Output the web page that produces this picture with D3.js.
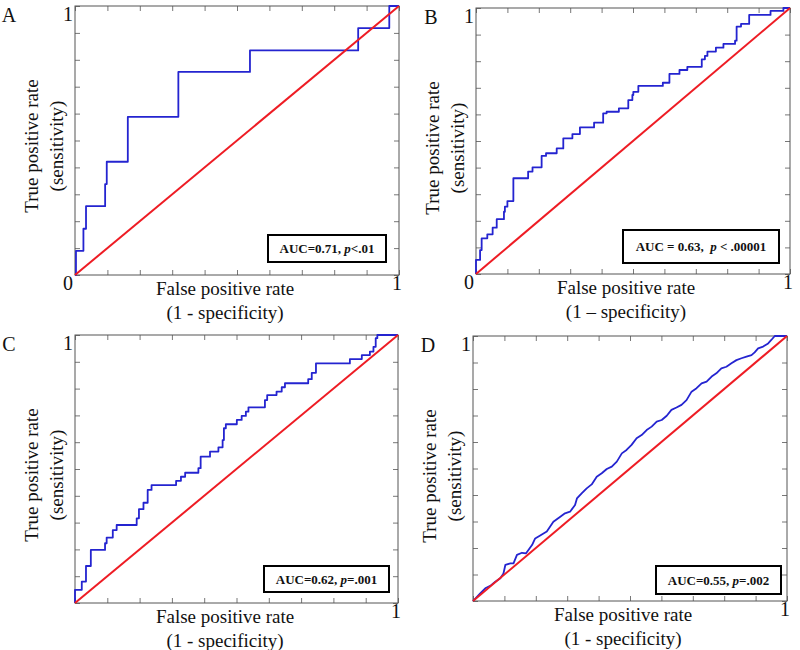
<!DOCTYPE html>
<html>
<head>
<meta charset="utf-8">
<script src="https://cdn.jsdelivr.net/npm/d3@7"></script>
<style>
  body { margin: 0; background: #fff; }
  svg { display: block; font-family: "Liberation Serif", "Times New Roman", serif; }
</style>
</head>
<body>
<div id="chart"></div>
<script>
// ROC values: x of each vertical jump and the level reached after it
const fprA = [0, 0.003, 0.026, 0.034, 0.093, 0.098, 0.163, 0.319, 0.540, 0.874, 0.970, 1.0];
const tprA = [0, 0.090, 0.172, 0.256, 0.338, 0.421, 0.588, 0.755, 0.835, 0.918, 1.0, 1.0];

const fprB = [0, 0, 0.013, 0.018, 0.036, 0.053, 0.066, 0.089, 0.092, 0.100, 0.119, 0.166, 0.180, 0.209,
  0.223, 0.257, 0.278, 0.307, 0.331, 0.376, 0.405, 0.416, 0.455, 0.485, 0.498, 0.501, 0.517, 0.595,
  0.616, 0.648, 0.673, 0.719, 0.729, 0.737, 0.764, 0.788, 0.825, 0.830, 0.844, 0.870, 0.938, 0.979, 1.0];
const tprB = [0, 0.053, 0.090, 0.134, 0.149, 0.174, 0.206, 0.234, 0.253, 0.274, 0.360, 0.385, 0.401, 0.444,
  0.454, 0.472, 0.510, 0.526, 0.551, 0.569, 0.604, 0.610, 0.623, 0.654, 0.673, 0.685, 0.707, 0.719,
  0.752, 0.767, 0.779, 0.807, 0.820, 0.836, 0.851, 0.865, 0.877, 0.930, 0.940, 0.974, 0.989, 1.0, 1.0];

const fprC = [0, 0, 0.021, 0.034, 0.049, 0.093, 0.098, 0.117, 0.129, 0.191, 0.198, 0.212, 0.225, 0.237,
  0.313, 0.328, 0.341, 0.382, 0.389, 0.418, 0.444, 0.457, 0.461, 0.467, 0.501, 0.516, 0.529, 0.537,
  0.588, 0.595, 0.624, 0.640, 0.650, 0.722, 0.733, 0.746, 0.851, 0.888, 0.913, 0.924, 0.931, 0.936, 1.0];
const tprC = [0, 0.049, 0.080, 0.138, 0.198, 0.223, 0.244, 0.272, 0.291, 0.316, 0.350, 0.374, 0.422, 0.440,
  0.456, 0.471, 0.486, 0.503, 0.546, 0.565, 0.581, 0.608, 0.652, 0.667, 0.683, 0.698, 0.714, 0.730,
  0.757, 0.776, 0.789, 0.805, 0.820, 0.835, 0.859, 0.894, 0.910, 0.925, 0.938, 0.956, 0.988, 1.0, 1.0];

const fprD = [0, 0.023, 0.039, 0.055, 0.071, 0.087, 0.097, 0.103, 0.119, 0.129, 0.140, 0.156, 0.169, 0.188,
  0.198, 0.214, 0.235, 0.256, 0.278, 0.293, 0.309, 0.325, 0.331, 0.346, 0.362, 0.378, 0.394, 0.410,
  0.426, 0.442, 0.458, 0.474, 0.489, 0.505, 0.521, 0.537, 0.553, 0.569, 0.585, 0.601, 0.617, 0.632,
  0.648, 0.664, 0.680, 0.696, 0.712, 0.728, 0.744, 0.760, 0.775, 0.791, 0.807, 0.823, 0.839, 0.855,
  0.871, 0.887, 0.897, 0.908, 0.924, 0.940, 0.950, 0.961, 1.0];
const tprD = [0, 0.029, 0.048, 0.057, 0.073, 0.086, 0.104, 0.136, 0.142, 0.142, 0.174, 0.182, 0.180, 0.211,
  0.236, 0.247, 0.262, 0.299, 0.318, 0.331, 0.337, 0.362, 0.387, 0.406, 0.425, 0.440, 0.469, 0.482,
  0.498, 0.507, 0.526, 0.557, 0.570, 0.589, 0.614, 0.626, 0.645, 0.658, 0.677, 0.683, 0.699, 0.721,
  0.730, 0.740, 0.758, 0.790, 0.803, 0.821, 0.828, 0.847, 0.859, 0.878, 0.884, 0.897, 0.909, 0.916,
  0.922, 0.928, 0.938, 0.953, 0.960, 0.972, 0.985, 1.0, 1.0];

const panelLetters = ["A", "B", "C", "D"];
const aucLabels = [
  ["AUC=0.71, ", "p", "<.01"],
  ["AUC = 0.63,  ", "p", " < .00001"],
  ["AUC=0.62, ", "p", "=.001"],
  ["AUC=0.55, ", "p", "=.002"]
];
const xLabels = ["(1 - specificity)", "(1 \u2013 specificity)", "(1 - specificity)", "(1 - specificity)"];
const showZero = [true, true, false, false];
const tickValues = d3.range(0, 11).map((i) => i / 10);

const layout = [
  { left: 75, right: 399, top: 6, bottom: 275, box: [268, 235, 118, 27], stepped: true, fpr: fprA, tpr: tprA },
  { left: 476, right: 790, top: 8, bottom: 274, box: [623, 230, 156, 33], stepped: true, fpr: fprB, tpr: tprB },
  { left: 75, right: 398, top: 335, bottom: 603, box: [264, 566, 125, 26], stepped: true, fpr: fprC, tpr: tprC },
  { left: 473, right: 787, top: 336, bottom: 601, box: [656, 566, 125, 28], stepped: false, fpr: fprD, tpr: tprD }
];

const svg = d3.select("#chart").append("svg").attr("width", 800).attr("height", 650);

layout.forEach((panel, index) => {
  const x = d3.scaleLinear().domain([0, 1]).range([panel.left, panel.right]);
  const y = d3.scaleLinear().domain([0, 1]).range([panel.bottom, panel.top]);
  const g = svg.append("g");
  const styleTicks = (axis) => {
    axis.select(".domain").remove();
    axis.selectAll("line").attr("stroke", "#777").attr("stroke-width", 1);
  };

  g.append("g").attr("transform", `translate(0,${panel.bottom})`)
    .call(d3.axisBottom(x).tickValues(tickValues).tickSize(-5).tickFormat("")).call(styleTicks);
  g.append("g").attr("transform", `translate(0,${panel.top})`)
    .call(d3.axisTop(x).tickValues(tickValues).tickSize(-5).tickFormat("")).call(styleTicks);
  g.append("g").attr("transform", `translate(${panel.left},0)`)
    .call(d3.axisLeft(y).tickValues(tickValues).tickSize(-5).tickFormat("")).call(styleTicks);
  g.append("g").attr("transform", `translate(${panel.right},0)`)
    .call(d3.axisRight(y).tickValues(tickValues).tickSize(-5).tickFormat("")).call(styleTicks);

  g.append("rect")
    .attr("x", panel.left)
    .attr("y", panel.top)
    .attr("width", panel.right - panel.left)
    .attr("height", panel.bottom - panel.top)
    .attr("fill", "none")
    .attr("stroke", "#555")
    .attr("stroke-width", 1);

  const points = panel.fpr.map((value, i) => [value, panel.tpr[i]]);
  const line = d3.line()
    .x((d) => x(d[0]))
    .y((d) => y(d[1]))
    .curve(panel.stepped ? d3.curveStepAfter : d3.curveLinear);

  g.append("path")
    .datum(points)
    .attr("fill", "none")
    .attr("stroke", "#2424d0")
    .attr("stroke-width", 1.8)
    .attr("stroke-linejoin", "round")
    .attr("d", line);

  g.append("line")
    .attr("x1", x(0)).attr("y1", y(0))
    .attr("x2", x(1)).attr("y2", y(1))
    .attr("stroke", "#ee1c24")
    .attr("stroke-width", 2);

  const [bx, by, bw, bh] = panel.box;
  g.append("rect")
    .attr("x", bx).attr("y", by).attr("width", bw).attr("height", bh)
    .attr("fill", "#fff")
    .attr("stroke", "#000")
    .attr("stroke-width", 2);

  const label = g.append("text")
    .attr("x", bx + bw / 2)
    .attr("y", by + bh / 2 + 4.5)
    .attr("text-anchor", "middle")
    .attr("font-size", 13)
    .attr("font-weight", 700)
    .attr("fill", "#111")
    .attr("xml:space", "preserve")
    .style("white-space", "pre");
  label.append("tspan").text(aucLabels[index][0]);
  label.append("tspan").attr("font-style", "italic").text(aucLabels[index][1]);
  label.append("tspan").text(aucLabels[index][2]);

  // panel letter and tick labels
  g.append("text")
    .attr("x", panel.left - (index % 2 === 0 ? 66 : 45))
    .attr("y", panel.top + 16)
    .attr("text-anchor", "middle")
    .attr("font-size", 20)
    .attr("fill", "#111")
    .text(panelLetters[index]);

  g.append("text")
    .attr("x", panel.left - 7)
    .attr("y", panel.top + 15)
    .attr("text-anchor", "middle")
    .attr("font-size", 20)
    .attr("fill", "#111")
    .text("1");

  if (showZero[index]) {
    g.append("text")
      .attr("x", panel.left - 7)
      .attr("y", panel.bottom + 15)
      .attr("text-anchor", "middle")
      .attr("font-size", 20)
      .attr("fill", "#111")
      .text("0");
  }

  g.append("text")
    .attr("x", panel.right - 2)
    .attr("y", panel.bottom + 15)
    .attr("text-anchor", "middle")
    .attr("font-size", 20)
    .attr("fill", "#111")
    .text("1");

  // axis titles
  const labelX = panel.left + 150;
  g.append("text")
    .attr("x", labelX)
    .attr("y", panel.bottom + 20)
    .attr("text-anchor", "middle")
    .attr("font-size", 19)
    .attr("fill", "#111")
    .text("False positive rate");
  g.append("text")
    .attr("x", labelX)
    .attr("y", panel.bottom + 44)
    .attr("text-anchor", "middle")
    .attr("font-size", 19)
    .attr("fill", "#111")
    .text(xLabels[index]);

  const labelY = panel.top + 140;
  g.append("text")
    .attr("transform", `translate(${panel.left - 37},${labelY}) rotate(-90)`)
    .attr("text-anchor", "middle")
    .attr("font-size", 19)
    .attr("fill", "#111")
    .text("True positive rate");
  g.append("text")
    .attr("transform", `translate(${panel.left - 12},${labelY}) rotate(-90)`)
    .attr("text-anchor", "middle")
    .attr("font-size", 19)
    .attr("fill", "#111")
    .text("(sensitivity)");
});
</script>
</body>
</html>
